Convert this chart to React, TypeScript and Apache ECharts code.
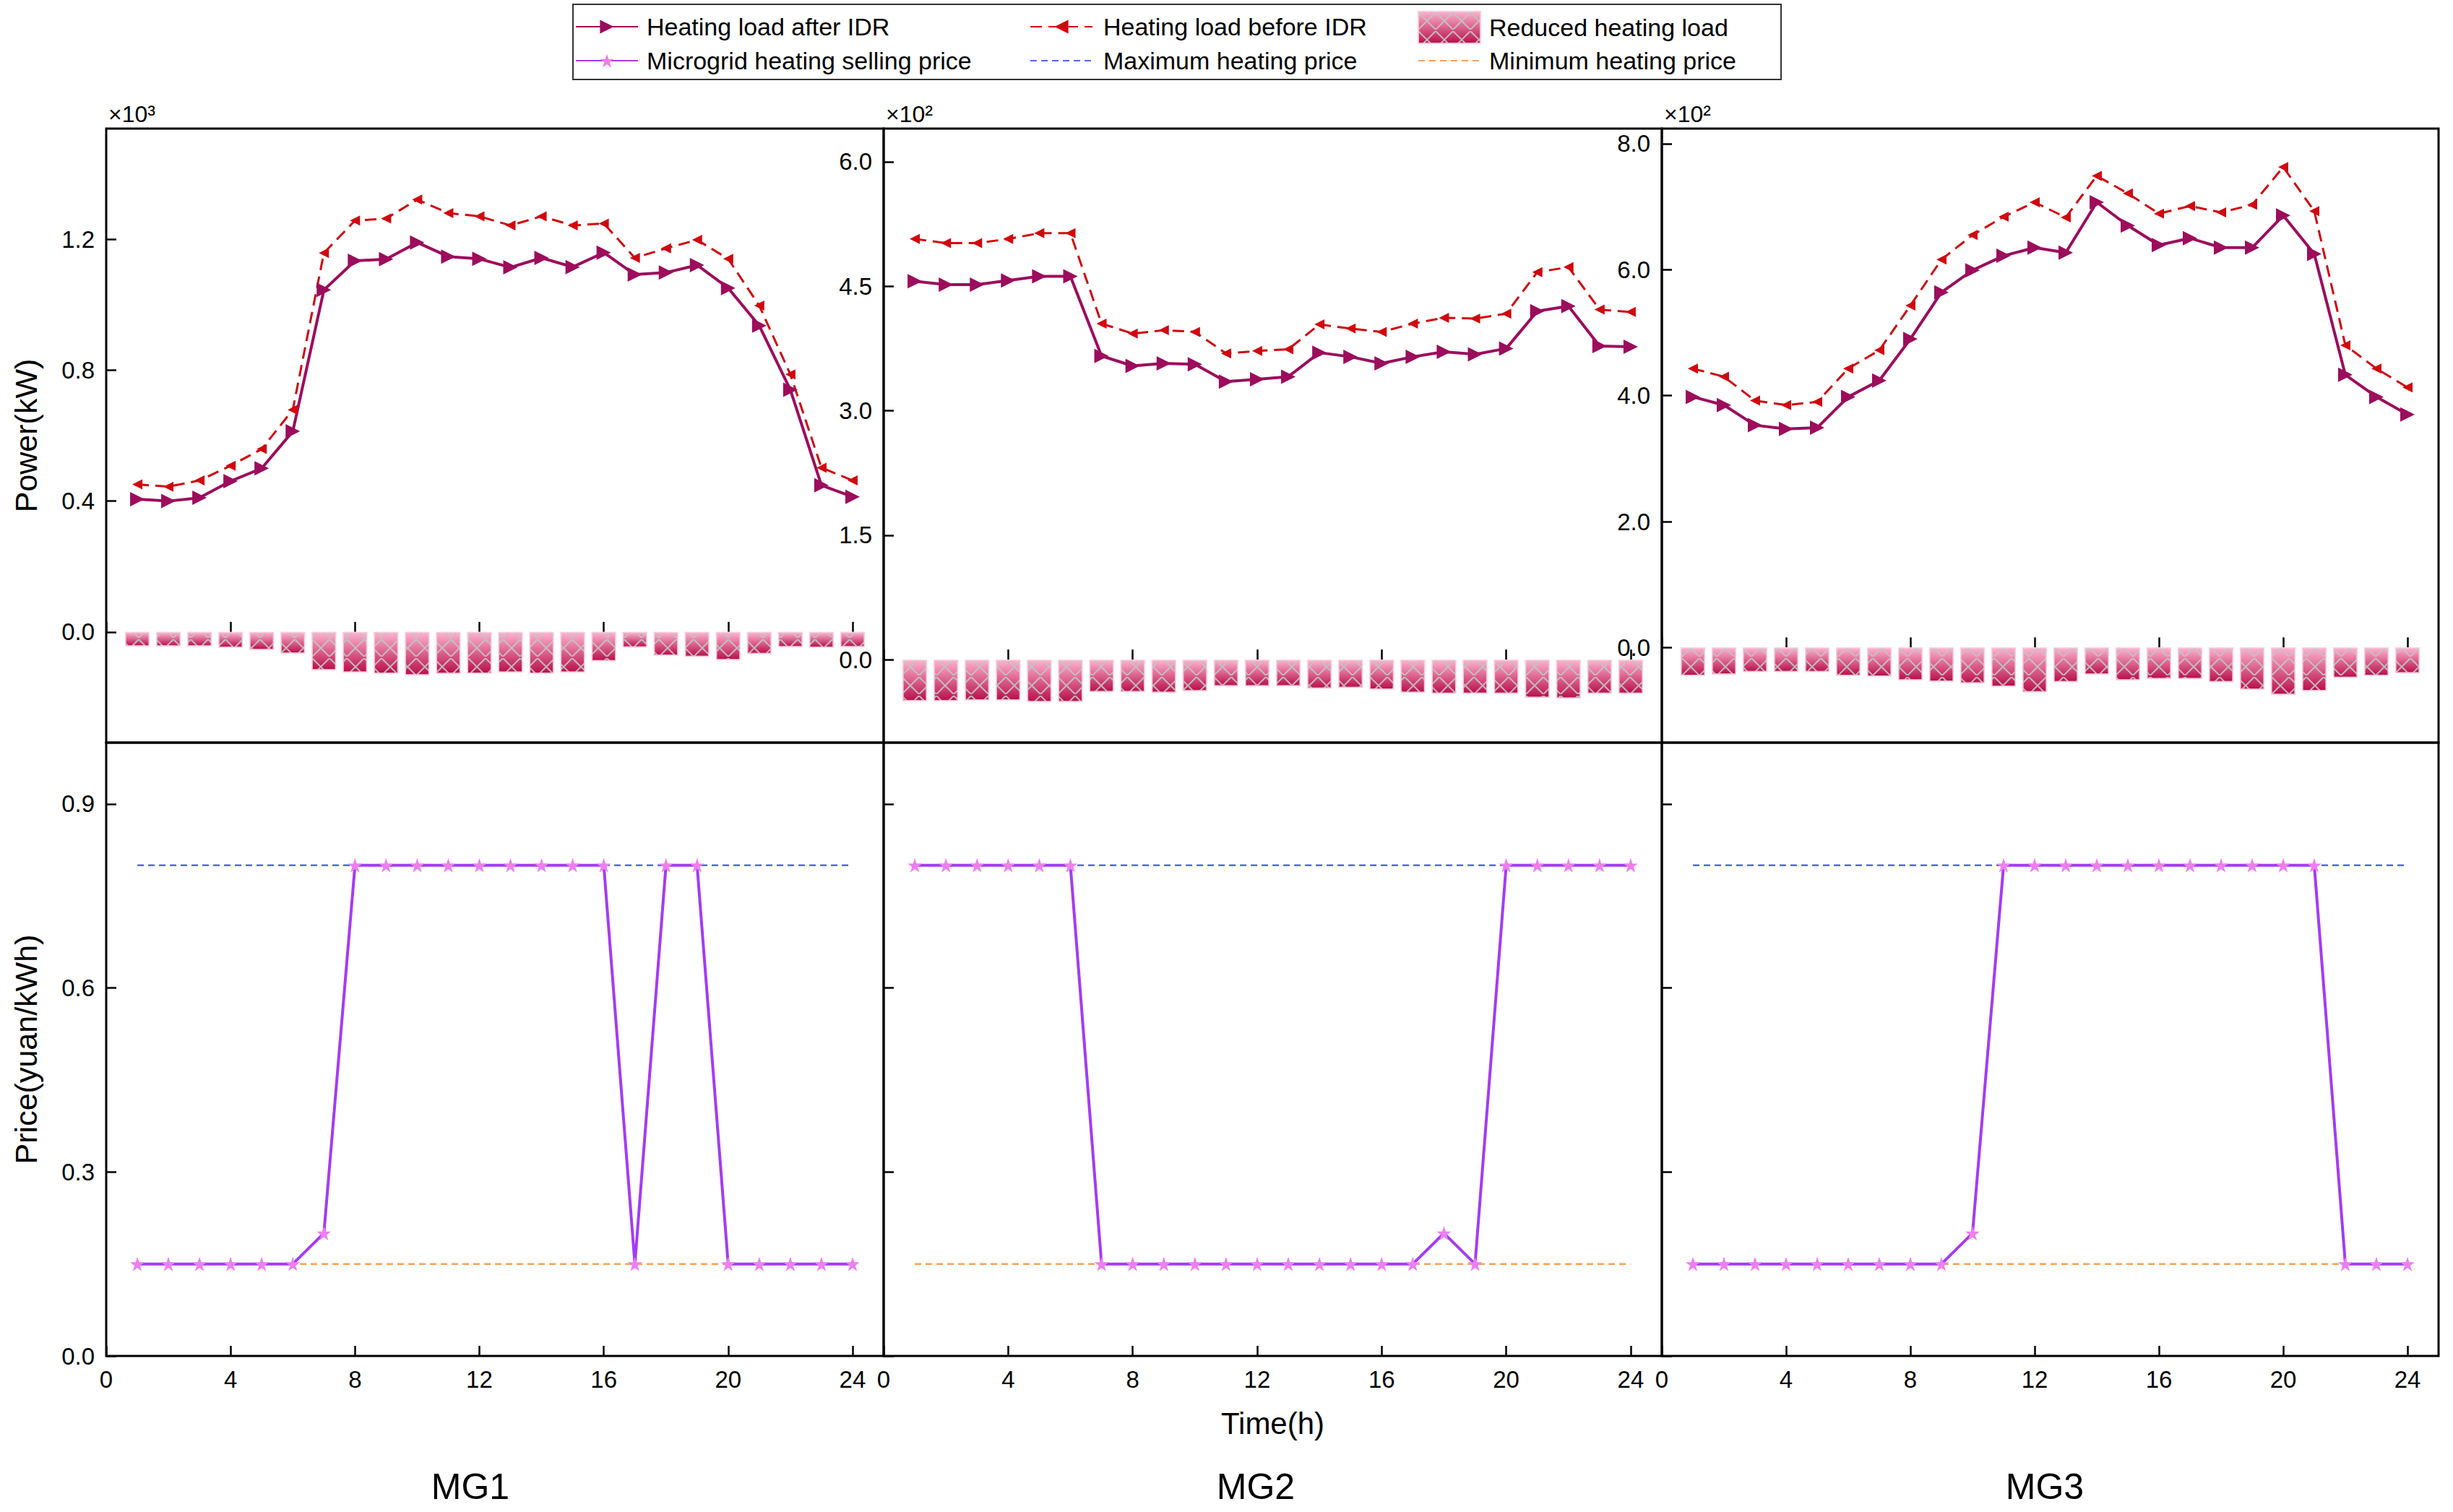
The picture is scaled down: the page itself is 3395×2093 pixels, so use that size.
import React, { useEffect, useRef } from "react";
import * as echarts from "echarts";

const hours = [1, 2, 3, 4, 5, 6, 7, 8, 9, 10, 11, 12, 13, 14, 15, 16, 17, 18, 19, 20, 21, 22, 23, 24];
const hourTicks = [0, 4, 8, 12, 16, 20, 24];

// heating load, kW
const mg1After = [406, 400, 410, 461, 500, 613, 1045, 1134, 1139, 1190, 1147, 1140, 1114, 1143, 1115, 1159, 1092, 1098, 1121, 1051, 936, 740, 448, 413];
const mg1Before = [451, 444, 463, 508, 559, 679, 1158, 1257, 1263, 1321, 1280, 1270, 1242, 1270, 1242, 1248, 1143, 1172, 1198, 1140, 997, 787, 502, 463];
const mg1Reduced = [-44, -44, -44, -48, -55, -66, -117, -124, -127, -132, -128, -127, -124, -127, -124, -89, -47, -72, -76, -86, -67, -46, -48, -46];

const mg2After = [456, 452, 452, 457, 462, 462, 366, 354, 357, 356, 335, 338, 341, 370, 365, 357, 365, 371, 368, 375, 420, 426, 378, 377];
const mg2Before = [507, 502, 502, 507, 514, 514, 405, 393, 397, 395, 369, 372, 374, 404, 399, 395, 405, 412, 411, 417, 467, 473, 422, 419];
const mg2Reduced = [-50, -50, -49, -49, -51, -51, -39, -39, -40, -38, -32, -32, -32, -35, -34, -36, -40, -41, -41, -41, -46, -47, -41, -41];

const mg3After = [398, 385, 353, 347, 349, 398, 424, 490, 564, 599, 622, 635, 627, 707, 670, 639, 650, 635, 635, 686, 625, 433, 398, 370];
const mg3Before = [443, 430, 392, 385, 390, 443, 472, 543, 616, 655, 684, 707, 683, 749, 721, 689, 701, 691, 703, 763, 693, 480, 443, 413];
const mg3Reduced = [-45, -43, -39, -39, -39, -45, -46, -52, -54, -57, -62, -71, -55, -43, -52, -50, -50, -55, -67, -75, -69, -48, -45, -41];

// selling price, yuan/kWh
const mg1Price = [0.15, 0.15, 0.15, 0.15, 0.15, 0.15, 0.2, 0.8, 0.8, 0.8, 0.8, 0.8, 0.8, 0.8, 0.8, 0.8, 0.15, 0.8, 0.8, 0.15, 0.15, 0.15, 0.15, 0.15];
const mg2Price = [0.8, 0.8, 0.8, 0.8, 0.8, 0.8, 0.15, 0.15, 0.15, 0.15, 0.15, 0.15, 0.15, 0.15, 0.15, 0.15, 0.15, 0.2, 0.15, 0.8, 0.8, 0.8, 0.8, 0.8];
const mg3Price = [0.15, 0.15, 0.15, 0.15, 0.15, 0.15, 0.15, 0.15, 0.15, 0.2, 0.8, 0.8, 0.8, 0.8, 0.8, 0.8, 0.8, 0.8, 0.8, 0.8, 0.8, 0.15, 0.15, 0.15];
const priceBoundHours = [1, 24];
const maxPrice = [0.8, 0.8];
const minPrice = [0.15, 0.15];

const priceTicks = [0, 0.3, 0.6, 0.9];
const mg1Ticks = [0, 400, 800, 1200];
const mg2Ticks = [0, 150, 300, 450, 600];
const mg3Ticks = [0, 200, 400, 600, 800];

const FONT = "Arial, 'Liberation Sans', sans-serif";
const STAR = "path://M50,0L61.8,35.3L99,35.3L69,57.1L80.3,92.7L50,70.9L19.7,92.7L31,57.1L1,35.3L38.2,35.3Z";
const HATCH = "path://M0,0L0.6,0L10,9.4L10,10L9.4,10L0,0.6Z M10,0L10,0.6L0.6,10L0,10L0,9.4L9.4,0Z";

const colLeft = [147, 1223, 2300];
const colWidth = [1076, 1077, 1075];

const App: React.FC = () => {
  const chartRef = useRef<HTMLDivElement>(null);

  useEffect(() => {
    if (!chartRef.current) return;
    const chart = echarts.init(chartRef.current, null, { renderer: "svg" });

    const loads = [
      { after: mg1After, before: mg1Before, reduced: mg1Reduced, ticks: mg1Ticks, min: -338, max: 1538, div: 1000, exp: "×10³", name: "MG1" },
      { after: mg2After, before: mg2Before, reduced: mg2Reduced, ticks: mg2Ticks, min: -100, max: 640, div: 100, exp: "×10²", name: "MG2" },
      { after: mg3After, before: mg3Before, reduced: mg3Reduced, ticks: mg3Ticks, min: -151, max: 824, div: 100, exp: "×10²", name: "MG3" },
    ];
    const prices = [mg1Price, mg2Price, mg3Price];
    const labelX = [651, 1738, 2830];

    const tickStyle = { show: true, inside: true, length: 14, lineStyle: { color: "#000", width: 2.5 } };
    const barFill = new echarts.graphic.LinearGradient(0, 0, 0, 1, [
      { offset: 0, color: "#fdb2cd" },
      { offset: 1, color: "#b90f4a" },
    ]);

    const grid: any[] = [];
    const xAxis: any[] = [];
    const yAxis: any[] = [];
    const series: any[] = [];

    for (let r = 0; r < 2; r++) {
      for (let c = 0; c < 3; c++) {
        const idx = r * 3 + c;
        grid.push({
          left: colLeft[c],
          width: colWidth[c],
          top: r === 0 ? 178 : 1028,
          height: r === 0 ? 850 : 849,
          show: true,
          borderColor: "#000",
          borderWidth: 3,
        });
        xAxis.push({
          type: "value",
          gridIndex: idx,
          min: 0,
          max: 25,
          axisLine: { show: false },
          axisTick: { ...tickStyle, customValues: hourTicks },
          axisLabel: {
            show: r === 1,
            customValues: hourTicks,
            fontSize: 33,
            color: "#000",
            fontFamily: FONT,
            margin: 16,
          },
          splitLine: { show: false },
          ...(idx === 4
            ? { name: "Time(h)", nameLocation: "middle", nameGap: 72, nameTextStyle: { fontSize: 42, color: "#000", fontFamily: FONT } }
            : {}),
        });
      }
    }

    loads.forEach((p, c) => {
      yAxis.push({
        type: "value",
        gridIndex: c,
        min: p.min,
        max: p.max,
        axisLine: { show: false },
        axisTick: { ...tickStyle, customValues: p.ticks },
        axisLabel: {
          customValues: p.ticks,
          formatter: (v: number) => (v / p.div).toFixed(1),
          fontSize: 33,
          color: "#000",
          fontFamily: FONT,
          margin: 16,
        },
        splitLine: { show: false },
        ...(c === 0
          ? { name: "Power(kW)", nameLocation: "middle", nameGap: 90, nameTextStyle: { fontSize: 43, color: "#000", fontFamily: FONT } }
          : {}),
      });
    });
    prices.forEach((_, c) => {
      yAxis.push({
        type: "value",
        gridIndex: 3 + c,
        min: 0,
        max: 1,
        axisLine: { show: false },
        axisTick: { ...tickStyle, customValues: priceTicks },
        axisLabel: {
          show: c === 0,
          customValues: priceTicks,
          formatter: (v: number) => v.toFixed(1),
          fontSize: 33,
          color: "#000",
          fontFamily: FONT,
          margin: 16,
        },
        splitLine: { show: false },
        ...(c === 0
          ? { name: "Price(yuan/kWh)", nameLocation: "middle", nameGap: 90, nameTextStyle: { fontSize: 43, color: "#000", fontFamily: FONT } }
          : {}),
      });
    });

    loads.forEach((p, c) => {
      series.push({
        name: "Reduced heating load",
        type: "bar",
        xAxisIndex: c,
        yAxisIndex: c,
        barWidth: 34,
        data: hours.map((h, i) => [h, p.reduced[i]]),
        itemStyle: {
          color: barFill,
          borderColor: "rgba(252,200,220,0.8)",
          borderWidth: 1.5,
          decal: {
            symbol: HATCH,
            symbolSize: 1,
            color: "rgba(196,196,196,0.9)",
            dashArrayX: [24, 0],
            dashArrayY: [26, 0],
          },
        },
      });
      series.push({
        name: "Heating load before IDR",
        type: "line",
        xAxisIndex: c,
        yAxisIndex: c,
        data: hours.map((h, i) => [h, p.before[i]]),
        symbol: "triangle",
        symbolRotate: 90,
        symbolSize: 14,
        lineStyle: { color: "#d1070f", width: 3, type: [16, 9] },
        itemStyle: { color: "#d1070f" },
      });
      series.push({
        name: "Heating load after IDR",
        type: "line",
        xAxisIndex: c,
        yAxisIndex: c,
        data: hours.map((h, i) => [h, p.after[i]]),
        symbol: "triangle",
        symbolRotate: -90,
        symbolSize: 20,
        lineStyle: { color: "#9c0d5c", width: 4 },
        itemStyle: { color: "#9c0d5c" },
      });
    });

    prices.forEach((pr, c) => {
      series.push({
        name: "Maximum heating price",
        type: "line",
        xAxisIndex: 3 + c,
        yAxisIndex: 3 + c,
        data: priceBoundHours.map((h, i) => [h, maxPrice[i]]),
        symbol: "none",
        lineStyle: { color: "#5468f2", width: 2.5, type: [9, 6] },
        itemStyle: { color: "#5468f2" },
      });
      series.push({
        name: "Minimum heating price",
        type: "line",
        xAxisIndex: 3 + c,
        yAxisIndex: 3 + c,
        data: priceBoundHours.map((h, i) => [h, minPrice[i]]),
        symbol: "none",
        lineStyle: { color: "#f4a25c", width: 2.5, type: [9, 6] },
        itemStyle: { color: "#f4a25c" },
      });
      series.push({
        name: "Microgrid heating selling price",
        type: "line",
        xAxisIndex: 3 + c,
        yAxisIndex: 3 + c,
        data: hours.map((h, i) => [h, pr[i]]),
        symbol: STAR,
        symbolSize: 20,
        lineStyle: { color: "#a33cf3", width: 4 },
        itemStyle: { color: "#ee7ef3" },
      });
    });

    const legendText = (pad: number) => ({
      fontSize: 34,
      color: "#000",
      fontFamily: FONT,
      lineHeight: 40,
      padding: [0, 0, 0, pad],
    });
    const noMarker = { opacity: 0 };

    const option: echarts.EChartsOption = {
      animation: false,
      backgroundColor: "#fff",
      textStyle: { fontFamily: FONT },
      grid,
      xAxis,
      yAxis,
      series,
      legend: [
        {
          orient: "vertical",
          left: 796,
          top: 17,
          padding: 0,
          itemWidth: 86,
          itemHeight: 24,
          itemGap: 7,
          selectedMode: false,
          data: ["Heating load after IDR", "Microgrid heating selling price"],
          textStyle: legendText(7),
        },
        {
          orient: "vertical",
          left: 1425,
          top: 17,
          padding: 0,
          itemWidth: 86,
          itemHeight: 24,
          itemGap: 7,
          selectedMode: false,
          data: ["Heating load before IDR", { name: "Maximum heating price", itemStyle: noMarker }],
          textStyle: legendText(10),
        },
        {
          orient: "vertical",
          left: 1962,
          top: 15,
          padding: 0,
          itemWidth: 86,
          itemHeight: 44,
          itemGap: 3,
          selectedMode: false,
          data: [
            { name: "Reduced heating load", icon: "rect" },
            { name: "Minimum heating price", itemStyle: noMarker },
          ],
          textStyle: legendText(7),
        },
      ] as any,
      graphic: [
        {
          type: "rect",
          shape: { x: 793, y: 6, width: 1672, height: 104 },
          style: { fill: "none", stroke: "#333", lineWidth: 2 },
          silent: true,
        },
        ...loads.map((p, c) => ({
          type: "text",
          x: colLeft[c] + 3,
          y: 174,
          style: { text: p.exp, fill: "#000", font: `32px ${FONT}`, textVerticalAlign: "bottom" },
        })),
        ...loads.map((p, c) => ({
          type: "text",
          x: labelX[c],
          y: 2058,
          style: {
            text: p.name,
            fill: "#000",
            font: `50px ${FONT}`,
            textAlign: "center",
            textVerticalAlign: "middle",
          },
        })),
      ] as any,
    };

    chart.setOption(option);

    return () => {
      chart.dispose();
    };
  }, []);

  return (
    <div
      ref={chartRef}
      style={{ position: "fixed", left: 0, top: 0, width: "3395px", height: "2093px" }}
    />
  );
};

export default App;
